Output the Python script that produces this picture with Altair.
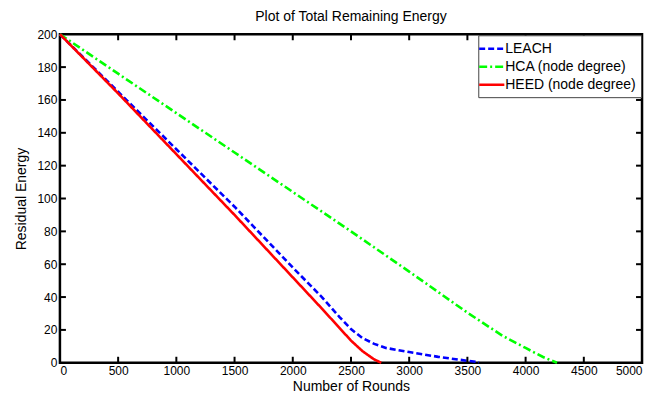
import altair as alt
import pandas as pd

# ---- data ----
leach_x = [0, 500, 1000, 1500, 2000, 2250, 2400, 2500, 2600, 2700, 2800, 3000, 3250, 3500, 3600]
leach_y = [200, 165, 130, 95, 58, 40, 28, 20.5, 15, 11.5, 9, 6.5, 3.6, 1.2, 0.3]
hca_x = [0, 500, 1000, 1500, 2000, 2500, 3000, 3500, 3800, 4000, 4150, 4270]
hca_y = [200, 176, 152, 128, 104, 80, 55.5, 30.5, 16.5, 9, 3.5, 0]
heed_x = [0, 500, 1000, 1500, 2000, 2250, 2500, 2600, 2700, 2760]
heed_y = [200, 164, 127, 90, 52, 33, 13.5, 7, 2, 0]

series_names = ["LEACH", "HCA (node degree)", "HEED (node degree)"]
series_colors = ["#0000FF", "#00FF00", "#FF0000"]
series_dash = [[6, 3], [8, 3, 2, 3], [1, 0]]

x_ticks = list(range(0, 5001, 500))
y_ticks = list(range(0, 201, 20))

rows = []
for name, xs, ys in zip(series_names, [leach_x, hca_x, heed_x], [leach_y, hca_y, heed_y]):
    for i, (a, b) in enumerate(zip(xs, ys)):
        rows.append({"series": name, "rounds": a, "energy": b, "order": i})
df = pd.DataFrame(rows)

W, H = 583, 329
FONT = "Liberation Sans"

xscale = alt.Scale(domain=[0, 5000], nice=False)
yscale = alt.Scale(domain=[0, 200], nice=False)

xaxis = alt.Axis(values=x_ticks, format="d", title="Number of Rounds", grid=False,
                 domain=False, ticks=False, labelPadding=3, labelFontSize=12,
                 labelOverlap=False, titleFontSize=14,
                 titleFontWeight="normal", titlePadding=3, labelFont=FONT, titleFont=FONT,
                 labelColor="black", titleColor="black")
yaxis = alt.Axis(values=y_ticks, format="d", title="Residual Energy", grid=False,
                 domain=False, ticks=False, labelPadding=3, labelFontSize=12,
                 labelOverlap=False, titleFontSize=14,
                 titleFontWeight="normal", titlePadding=8, labelFont=FONT, titleFont=FONT,
                 labelColor="black", titleColor="black")

legend_cfg = dict(title=None, orient="top-right", offset=1,
                  symbolType="M-1.8,0H1.8", symbolSize=196, symbolStrokeWidth=2.6,
                  labelFontSize=14, labelFont=FONT, labelColor="black",
                  strokeColor="#444", fillColor="white", padding=5,
                  rowPadding=2, labelOffset=5, cornerRadius=0)

lines = alt.Chart(df).mark_line(strokeWidth=2.6).encode(
    x=alt.X("rounds:Q", scale=xscale, axis=xaxis, title="Number of Rounds"),
    y=alt.Y("energy:Q", scale=yscale, axis=yaxis, title="Residual Energy"),
    color=alt.Color("series:N", sort=series_names,
                    scale=alt.Scale(domain=series_names, range=series_colors),
                    legend=alt.Legend(**legend_cfg)),
    strokeDash=alt.StrokeDash("series:N", sort=series_names,
                              scale=alt.Scale(domain=series_names, range=series_dash),
                              legend=alt.Legend(**legend_cfg)),
    order="order:Q",
)

xt = pd.DataFrame({"v": x_ticks[1:-1]})
yt = pd.DataFrame({"v": y_ticks[1:-1]})
TL = 6
tick_style = dict(color="black", strokeWidth=2)
bottom_ticks = alt.Chart(xt).mark_rule(**tick_style).encode(
    x=alt.X("v:Q", scale=xscale, axis=xaxis, title="Number of Rounds"),
    y=alt.value(H), y2=alt.value(H - TL))
top_ticks = alt.Chart(xt).mark_rule(**tick_style).encode(
    x=alt.X("v:Q", scale=xscale, axis=xaxis, title="Number of Rounds"),
    y=alt.value(0), y2=alt.value(TL))
left_ticks = alt.Chart(yt).mark_rule(**tick_style).encode(
    y=alt.Y("v:Q", scale=yscale, axis=yaxis, title="Residual Energy"),
    x=alt.value(0), x2=alt.value(TL))
right_ticks = alt.Chart(yt).mark_rule(**tick_style).encode(
    y=alt.Y("v:Q", scale=yscale, axis=yaxis, title="Residual Energy"),
    x=alt.value(W), x2=alt.value(W - TL))

chart = alt.layer(lines, bottom_ticks, top_ticks, left_ticks, right_ticks).properties(
    width=W, height=H,
    title=alt.Title("Plot of Total Remaining Energy", fontSize=14, font=FONT,
                    fontWeight="normal", color="black", offset=4),
    autosize=alt.AutoSizeParams(type="none"),
    padding={"left": 52, "top": 26, "right": 20, "bottom": 40},
    background="white",
).configure_view(stroke="black", strokeWidth=2.5).configure_axis(labelOverlap=False)

chart.save("out.html", embed_options={"renderer": "svg", "actions": False})
